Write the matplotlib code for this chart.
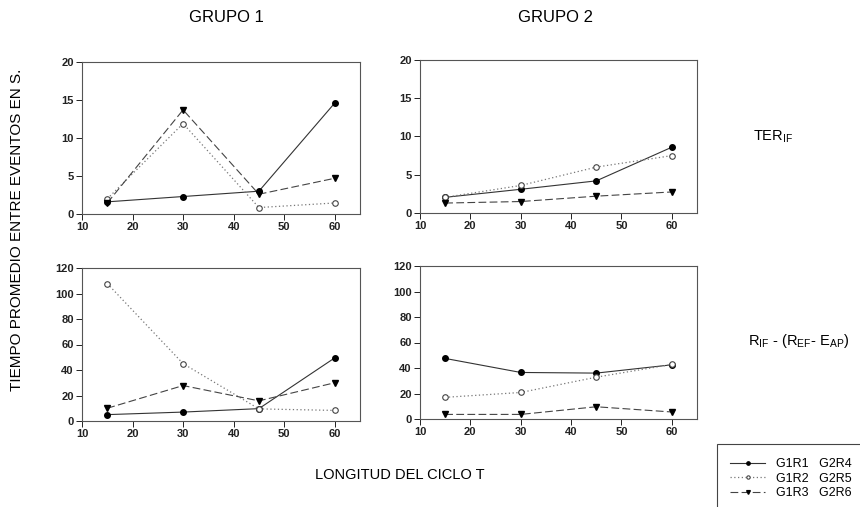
import matplotlib
matplotlib.use('Agg')
import matplotlib.pyplot as plt
from matplotlib.patches import Rectangle
from matplotlib.lines import Line2D

plt.rcParams['font.family'] = ['Liberation Sans', 'DejaVu Sans']
plt.rcParams['mathtext.fontset'] = 'custom'
plt.rcParams['mathtext.rm'] = 'Liberation Sans'

T = [15, 30, 45, 60]

# GRUPO 1, TER_IF
g1_ter_r1 = [1.6, 2.3, 3.0, 14.6]
g1_ter_r2 = [2.0, 11.9, 0.85, 1.45]
g1_ter_r3 = [1.45, 13.7, 2.6, 4.7]
# GRUPO 2, TER_IF
g2_ter_r4 = [2.05, 3.1, 4.2, 8.6]
g2_ter_r5 = [2.05, 3.6, 6.0, 7.5]
g2_ter_r6 = [1.3, 1.5, 2.2, 2.75]
# GRUPO 1, R_IF - (R_EF - E_AP)
g1_r_r1 = [5.0, 7.0, 9.7, 49.5]
g1_r_r2 = [107.8, 45.0, 9.5, 8.3]
g1_r_r3 = [10.0, 27.8, 15.8, 30.0]
# GRUPO 2, R_IF - (R_EF - E_AP)
g2_r_r4 = [47.5, 36.5, 36.0, 42.5]
g2_r_r5 = [17.0, 20.8, 32.8, 42.8]
g2_r_r6 = [3.6, 3.6, 9.6, 5.5]

legend_labels = ['G1R1   G2R4', 'G1R2   G2R5', 'G1R3   G2R6']

styles = [
    dict(color='#333333', ls='-', lw=0.8, marker='o', ms=4, mfc='black', mec='black'),
    dict(color='#777777', ls=(0, (1, 2)), lw=0.9, marker='o', ms=4, mfc='white', mec='#444444', mew=0.8),
    dict(color='#444444', ls=(0, (7, 3)), lw=0.8, marker='v', ms=4.5, mfc='black', mec='black'),
]

W, H = 860, 507
fig = plt.figure(figsize=(8.6, 5.07), dpi=100)


def box(l, t, r, b):
    return [l / W, 1 - b / H, (r - l) / W, (b - t) / H]


panels = [
    (box(82, 62, 360, 214), [g1_ter_r1, g1_ter_r2, g1_ter_r3], 20, range(0, 21, 5)),
    (box(420, 60, 697, 213), [g2_ter_r4, g2_ter_r5, g2_ter_r6], 20, range(0, 21, 5)),
    (box(82, 268, 360, 421), [g1_r_r1, g1_r_r2, g1_r_r3], 120, range(0, 121, 20)),
    (box(420, 266, 697, 419), [g2_r_r4, g2_r_r5, g2_r_r6], 120, range(0, 121, 20)),
]

for rect, series, ymax, yt in panels:
    ax = fig.add_axes(rect)
    for ys, st in zip(series, styles):
        ax.plot(T, ys, **st)
    ax.set_xlim(10, 65)
    ax.set_ylim(0, ymax)
    ax.set_xticks(range(10, 61, 10))
    ax.set_yticks(list(yt))
    ax.tick_params(direction='out', length=4, width=0.7, labelsize=8, pad=2, colors='#222222')
    for lab in ax.get_xticklabels() + ax.get_yticklabels():
        lab.set_fontweight('bold')
    for sp in ax.spines.values():
        sp.set_color('#555555')
        sp.set_linewidth(0.8)

fig.text(226 / W, 1 - 17 / H, 'GRUPO 1', ha='center', va='center', fontsize=12)
fig.text(555 / W, 1 - 17 / H, 'GRUPO 2', ha='center', va='center', fontsize=12)
fig.text(17 / W, 1 - 230 / H, 'TIEMPO PROMEDIO ENTRE EVENTOS EN S.', rotation=90,
         ha='center', va='center', fontsize=11)
fig.text(400 / W, 1 - 475 / H, 'LONGITUD DEL CICLO T', ha='center', va='center', fontsize=10.5)
fig.text(753 / W, 1 - 137 / H, r'TER$_{\mathregular{IF}}$', ha='left', va='center', fontsize=10.5)
fig.text(748 / W, 1 - 341 / H,
         r'R$_{\mathregular{IF}}$ - (R$_{\mathregular{EF}}$- E$_{\mathregular{AP}}$)',
         ha='left', va='center', fontsize=10.5)

# legend box running off the lower right corner
fig.patches.append(Rectangle((717 / W, -0.05), 0.4, 1 - 444 / H + 0.05,
                             transform=fig.transFigure, fill=False,
                             edgecolor='#444444', lw=0.8))
handles = [Line2D([], [], **st) for st in styles]
fig.legend(handles, legend_labels, loc='upper left', bbox_to_anchor=(724 / W, 1 - 452 / H),
           frameon=False, fontsize=9, handlelength=2.8, labelspacing=0.2,
           borderpad=0, handletextpad=0.9, markerscale=0.6)

fig.savefig('out.png', dpi=100)
